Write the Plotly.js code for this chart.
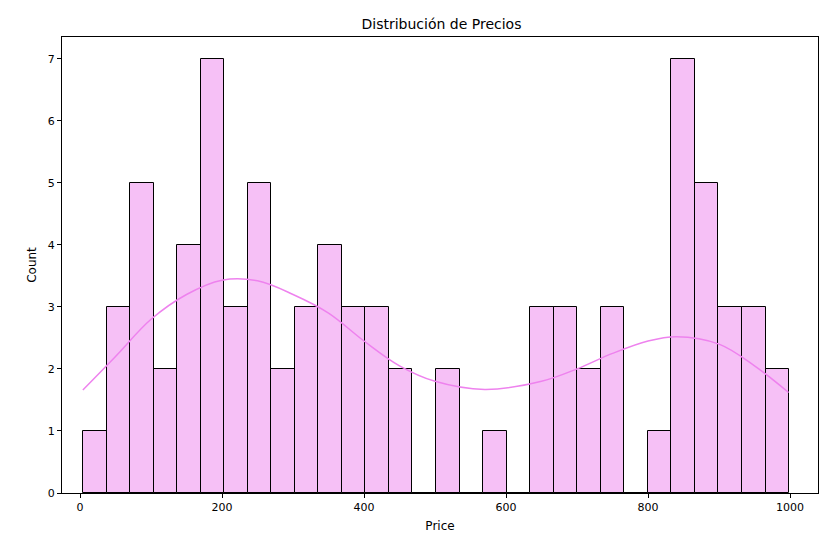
<!DOCTYPE html>
<html>
<head>
<meta charset="utf-8">
<script src="https://cdn.plot.ly/plotly-3.0.1.min.js"></script>
<style>body{margin:0;}#plot{width:833px;height:547px;}</style>
</head>
<body>
<div id="plot"></div>
<script>
// histogram: 30 bins between these edges
const binStart = 4.2;
const binEnd = 998.6;
const counts = [1,3,5,2,4,7,3,5,2,3,4,3,3,2,0,2,0,1,0,3,3,2,3,0,1,7,5,3,3,2];

// kde curve
const kdeX = [4,50,100,150,200,250,300,350,400,450,500,570,650,700,750,800,840,900,950,998];
const kdeY = [1.66,2.2,2.8,3.2,3.43,3.42,3.2,2.9,2.45,2.05,1.8,1.67,1.8,2.0,2.25,2.45,2.52,2.4,2.05,1.62];

const w = (binEnd - binStart) / counts.length;
const centers = counts.map((c, i) => binStart + w * (i + 0.5));

const traces = [
  {
    type: "bar", x: centers, y: counts, width: w,
    marker: { color: "rgba(238,130,238,0.5)", line: { color: "black", width: 1 } },
    showlegend: false, hoverinfo: "x+y"
  },
  {
    type: "scatter", mode: "lines", x: kdeX, y: kdeY,
    line: { color: "#ee82ee", width: 1.5, shape: "spline" },
    showlegend: false
  }
];

const axisStyle = {
  showgrid: false, zeroline: false, showline: true, mirror: true,
  linecolor: "black", linewidth: 1, ticks: "outside", ticklen: 4,
  tickcolor: "black", tickfont: { size: 11, color: "black" }
};

const layout = {
  width: 833, height: 547,
  margin: { l: 62, r: 15, t: 37, b: 54 },
  font: { family: "DejaVu Sans", color: "black" },
  paper_bgcolor: "white", plot_bgcolor: "white",
  bargap: 0,
  title: { text: "Distribución de Precios", font: { size: 14 }, x: 0.53, y: 0.965 },
  xaxis: Object.assign({}, axisStyle, {
    range: [-25.4, 1039.4], tickvals: [0,200,400,600,800,1000],
    title: { text: "Price", font: { size: 12 }, standoff: 8 }
  }),
  yaxis: Object.assign({}, axisStyle, {
    range: [0, 7.35], dtick: 1,
    title: { text: "Count", font: { size: 12 }, standoff: 8 }
  })
};

Plotly.newPlot("plot", traces, layout, { displayModeBar: false });
</script>
</body>
</html>
